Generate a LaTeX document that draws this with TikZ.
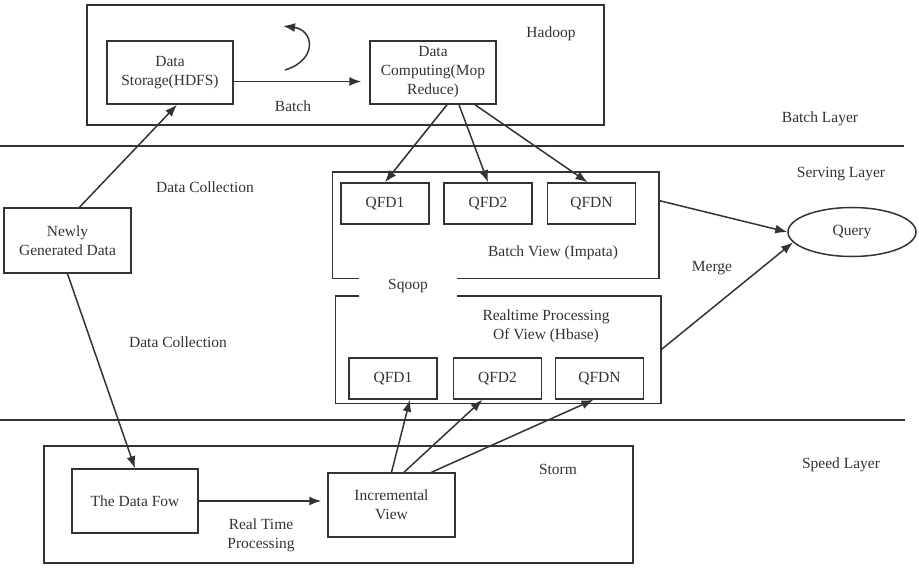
\documentclass[tikz,border=0pt]{standalone}
\usepackage{fontspec}
\setmainfont{Liberation Serif}
\usetikzlibrary{shapes,arrows,arrows.meta,positioning}

\begin{document}
\begin{tikzpicture}[x=1pt,y=-1pt]
\fontsize{15.5}{19}\selectfont
\tikzstyle{frame} = [rectangle, draw=black!80, line width=1.5pt, inner sep=0pt]
\tikzstyle{block} = [rectangle, draw=black!80, line width=1.5pt, text=black!80, align=center, minimum width=126pt, minimum height=63pt, inner sep=2pt]
\tikzstyle{qfd} = [block, minimum width=88pt, minimum height=41pt]
\tikzstyle{label} = [text=black!80, align=center, inner sep=1pt]
\tikzstyle{outline} = [draw=black!80, line width=1.5pt]
\tikzstyle{line} = [draw=black!80, line width=1.5pt, -{Latex[length=12pt,width=9pt]}]

\useasboundingbox (0,0) rectangle (919,569);

	% batch layer
	\node [frame, minimum width=517pt, minimum height=120pt] (hadoop) at (345.5,65) {};
	\node [block] (storage) at (170,72.5) {Data\\Storage(HDFS)};
	\node [block] (compute) at (433,72.5) {Data\\Computing(Mop\\Reduce)};
	% serving layer
	\node [block, minimum width=127pt, minimum height=65pt] (newly) at (67.5,240.5) {Newly\\Generated Data};
	\node [frame, draw=none, minimum width=325pt, minimum height=105pt] (bview) at (495.5,225.5) {};
	\node [qfd] (qa1) at (385,203.5) {QFD1};
	\node [qfd] (qa2) at (488,203.5) {QFD2};
	\node [qfd] (qaN) at (591.5,203.5) {QFDN};
	\node [frame, draw=none, minimum width=324pt, minimum height=106pt] (rview) at (498,350) {};
	\node [qfd] (qb1) at (393,378.5) {QFD1};
	\node [qfd] (qb2) at (497.5,378.5) {QFD2};
	\node [qfd] (qbN) at (599.5,378.5) {QFDN};
	\node [ellipse, draw=black!80, line width=1.5pt, text=black!80, minimum width=128pt, minimum height=49pt] (query) at (852,232) {Query};
	% speed layer
	\node [frame, minimum width=589pt, minimum height=117pt] (storm) at (338.5,504.5) {};
	\node [block, minimum height=64pt] (flow) at (135,501) {The Data Fow};
	\node [block, minimum width=127pt, minimum height=64pt] (incr) at (391.5,505) {Incremental\\View};

	% view boxes, open for Sqoop
	\draw [outline] ([xshift=27pt]bview.south west) -| (bview.north west) -| (bview.south east) -- ([xshift=125pt]bview.south west);
	\draw [outline] ([xshift=24pt]rview.north west) -| (rview.south west) -| (rview.north east) -- ([xshift=122pt]rview.north west);

	% layer borders
	\draw [outline] (0,146) -- (904,146);
	\draw [outline] (0,420) -- (905,420);

	% labels
	\node [label] (hadooplbl) at (551,34) {Hadoop};
	\node [label] (batchlbl) at (293,106) {Batch};
	\node [label] (blayer) at (820,119) {Batch Layer};
	\node [label] (slayer) at (841,174) {Serving Layer};
	\node [label] (splayer) at (841,465) {Speed Layer};
	\node [label] (coll1) at (205,187) {Data Collection};
	\node [label] (coll2) at (178,342) {Data Collection};
	\node [label] (bviewlbl) at (553,253) {Batch View (Impata)};
	\node [label] (sqoop) at (408,286) {Sqoop};
	\node [label] (rviewlbl) at (546,326) {Realtime Processing\\Of View (Hbase)};
	\node [label] (merge) at (712,268) {Merge};
	\node [label] (stormlbl) at (558,469) {Storm};
	\node [label] (rtlbl) at (261,535) {Real Time\\Processing};

	% connectors
	\path [line] ([xshift=12pt]newly.north) -- ([xshift=7pt]storage.south);
	\path [line] (newly.south) -- (flow.north);
	\path [line, shorten >=8pt] ([yshift=-9pt]storage.east) -- ([yshift=-9pt]compute.west);
	\path [line] (285,70) .. controls (318,60) and (314,30) .. (283,26);
	\path [line] ([xshift=14pt]compute.south) -- (qa1.north);
	\path [line] ([xshift=26pt]compute.south) -- (qa2.north);
	\path [line] ([xshift=42pt]compute.south) -- ([xshift=-4pt]qaN.north);
	\path [line] ([yshift=25pt]bview.east) -- (query.west);
	\path [line] (rview.east) -- (query.190);
	\path [line, shorten >=6pt] (flow) -- (flow -| incr.west);
	\path [line] (incr.north) -- ([xshift=17pt]qb1.south);
	\path [line] ([xshift=12.5pt]incr.north) -- ([xshift=-15pt]qb2.south);
	\path [line] ([xshift=40pt]incr.north) -- ([xshift=-6pt]qbN.south);
\end{tikzpicture}
\end{document}
